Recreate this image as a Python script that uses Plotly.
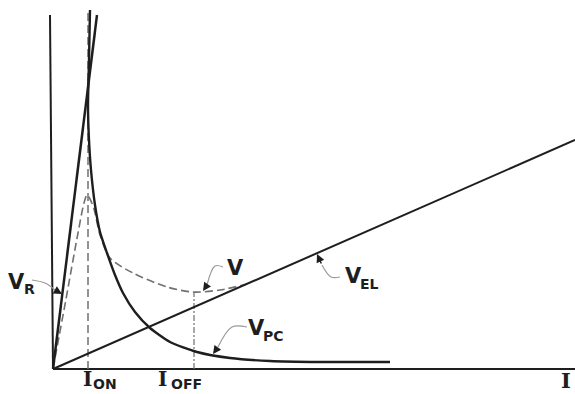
import plotly.graph_objects as go

# ---- data (arbitrary units: I along x, V along y) ----
I_EL = [0, 522]
V_EL = [0, 229]

I_R = [0, 44]
V_R = [0, 354]

I_PC = [37, 36, 35, 36, 38, 42, 47, 54, 62, 70, 82, 97, 117, 144, 177, 217, 267, 337]
V_PC = [359, 309, 262, 229, 199, 164, 137, 116, 94, 76, 57, 41, 27, 17, 11, 8, 7, 7]

I_V = [0, 13, 25, 31, 34, 37, 41, 47, 57, 80, 114, 140, 167, 194]
V_V = [0, 70, 136, 166, 174, 170, 160, 134, 111, 96, 82, 77, 79, 85]

I_ON = 35
I_OFF = 141
V_ON_TOP = 356
V_OFF_TOP = 77

AXIS_X = [-53, 522]
AXIS_Y = [-25, 369]

INK = "#1e1e1e"
DASH = "#707070"
LEAD = "#9a9a9a"

fig = go.Figure()

# axes lines
fig.add_trace(go.Scatter(x=[0, 522], y=[0, 0], mode="lines",
                         line=dict(color=INK, width=2), hoverinfo="skip"))
fig.add_trace(go.Scatter(x=[0, -3], y=[0, 354], mode="lines",
                         line=dict(color=INK, width=2), hoverinfo="skip"))

# dashed guides
fig.add_trace(go.Scatter(x=[I_ON, I_ON], y=[0, V_ON_TOP], mode="lines",
                         line=dict(color=DASH, width=1.5, dash="8px,4px"), hoverinfo="skip"))
fig.add_trace(go.Scatter(x=[I_OFF, I_OFF], y=[0, V_OFF_TOP], mode="lines",
                         line=dict(color=DASH, width=1.2, dash="6px,2px,2px,2px"), hoverinfo="skip"))

# V (dashed curve)
fig.add_trace(go.Scatter(x=I_V, y=V_V, mode="lines",
                         line=dict(color=DASH, width=1.6, dash="8px,4px", shape="spline", smoothing=0.8),
                         hoverinfo="skip"))

# V_EL, V_R, V_PC
fig.add_trace(go.Scatter(x=I_EL, y=V_EL, mode="lines",
                         line=dict(color=INK, width=2), hoverinfo="skip"))
fig.add_trace(go.Scatter(x=I_R, y=V_R, mode="lines",
                         line=dict(color=INK, width=2.5), hoverinfo="skip"))
fig.add_trace(go.Scatter(x=I_PC, y=V_PC, mode="lines",
                         line=dict(color=INK, width=2.4, shape="spline", smoothing=0.6),
                         hoverinfo="skip"))

# leaders
leaders = [
    ([-21, -8, 2], [89, 86, 79], (9, 75)),
    ([170, 162, 154], [102, 103, 84], (150, 78)),
    ([287, 278, 269], [92, 92, 104], (264, 115)),
    ([194, 179, 165], [42, 42, 22], (160, 15)),
]
for lx, ly, tip in leaders:
    fig.add_trace(go.Scatter(x=lx, y=ly, mode="lines",
                             line=dict(color=LEAD, width=1.2, shape="spline"), hoverinfo="skip"))
    fig.add_annotation(x=tip[0], y=tip[1], ax=lx[-1], ay=ly[-1], xref="x", yref="y",
                       axref="x", ayref="y", text="", showarrow=True, arrowhead=2,
                       arrowsize=1.1, arrowwidth=1.5, arrowcolor=INK)

SANS = "DejaVu Sans"
def label(x, y, txt, size, family=SANS, anchor="left", yanchor="middle"):
    fig.add_annotation(x=x, y=y, xref="x", yref="y", text="<b>" + txt + "</b>",
                       showarrow=False, xanchor=anchor, yanchor=yanchor,
                       font=dict(family=family, size=size, color=INK))

# V_R
label(-47, 87, "V", 21)
label(-31, 80, "R", 14)
# V
label(172, 101, "V", 21)
# V_EL
label(290, 93, "V", 21)
label(305, 85, "EL", 14)
# V_PC
label(193, 41, "V", 21)
label(208, 33, "PC", 14)
# I labels (kept inside the picture)
label(28, -24, "I", 20, family="DejaVu Serif", yanchor="bottom")
label(38, -24.5, "ON", 14, yanchor="bottom")
label(103, -24, "I", 20, family="DejaVu Serif", yanchor="bottom")
label(116, -24.5, "OFF", 14, yanchor="bottom")
label(506, -11, "I", 21, family="DejaVu Serif")

fig.update_layout(
    width=575, height=394,
    margin=dict(l=0, r=0, t=0, b=0),
    paper_bgcolor="white", plot_bgcolor="white",
    showlegend=False,
    xaxis=dict(range=AXIS_X, visible=False, fixedrange=True),
    yaxis=dict(range=AXIS_Y, visible=False, fixedrange=True),
)

fig.write_html("out.html")
